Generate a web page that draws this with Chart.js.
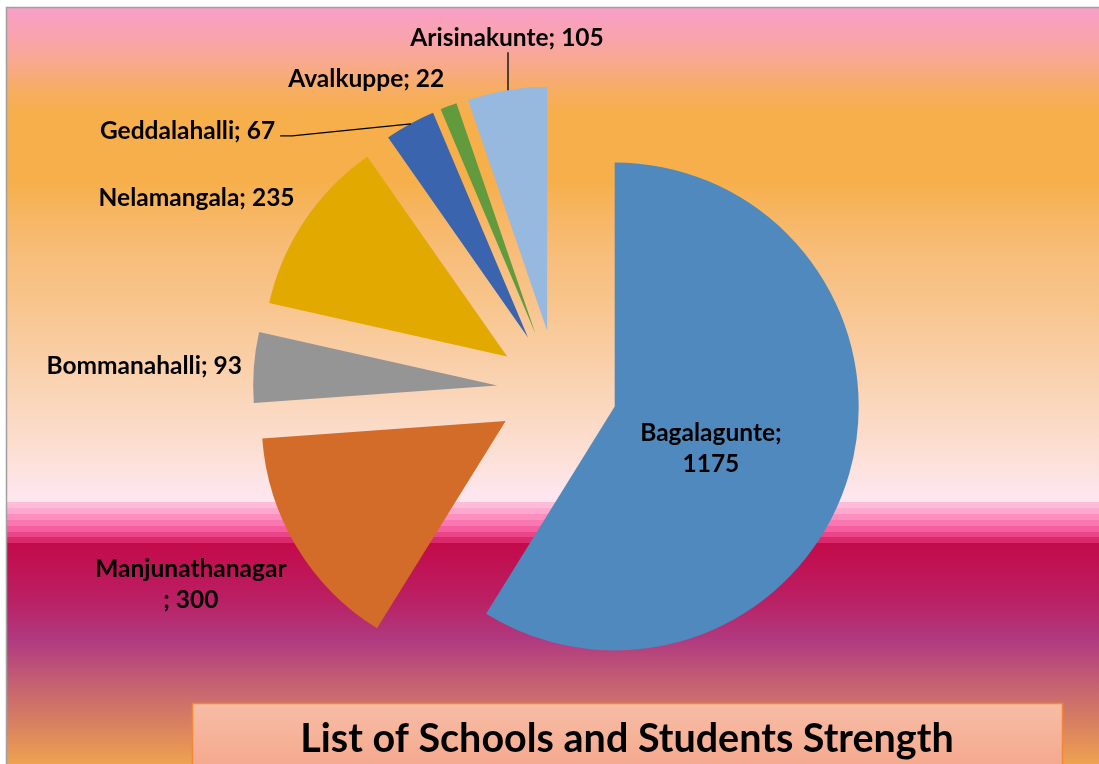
<!DOCTYPE html>
<html>
<head>
    <title>List of Schools and Students Strength</title>
    <script src="https://cdn.jsdelivr.net/npm/chart.js"></script>
    <style>
        html, body { margin: 0; padding: 0; background: #fff; }
        .chart-container { width: 1099px; height: 764px; }
    </style>
</head>
<body>
    <div class="chart-container">
        <canvas id="schoolChart" width="1099" height="764"></canvas>
    </div>

    <script>
        // data
        const schools = ['Bagalagunte', 'Manjunathanagar', 'Bommanahalli', 'Nelamangala', 'Geddalahalli', 'Avalkuppe', 'Arisinakunte'];
        const students = [1175, 300, 93, 235, 67, 22, 105];
        const sliceColors = ['#4F89BD', '#D36C29', '#959595', '#E2A900', '#3A64AD', '#629A3E', '#97B8DF'];
        const chartTitle = 'List of Schools and Students Strength';

        const explode = 60;          // every slice pulled out this far
        const labelGap = 12;
        const labelFont = 'bold 24.5px Lato';
        const lineH = 31;

        // labels that Excel moved / wrapped
        const labelTweaks = {
            Bagalagunte: { inside: true, dy: 15 },
            Manjunathanagar: { wrap: true },
            Geddalahalli: { dx: -129, dy: 33, leader: 'elbow' },
            Arisinakunte: { dx: 2, dy: -25, leader: 'straight' }
        };

        // background gradient (y in px, colour)
        const bgStops = [
            [8, '#F99FC9'], [35, '#F9A3B0'], [62, '#F8A98E'], [90, '#F7AD62'], [115, '#F6AF4A'],
            [180, '#F6AF4A'], [215, '#F7B663'], [260, '#F7BE7D'], [300, '#F8C48A'], [350, '#F9CDA3'],
            [400, '#FAD6BA'], [450, '#FCDFD3'], [495, '#FDE6EE'], [502, '#FDE6EE'],
            [502, '#FEBCD8'], [508, '#FEBCD8'], [508, '#FDA9CD'], [514, '#FDA9CD'],
            [514, '#FC8FC0'], [520, '#FC8FC0'], [520, '#F978B2'], [526, '#F978B2'],
            [526, '#F55E9F'], [532, '#F55E9F'], [532, '#EC4489'], [537, '#EC4489'],
            [537, '#DB2A6C'], [543, '#DB2A6C'], [543, '#C30A4A'],
            [600, '#BA2064'], [640, '#B03A80'], [690, '#C86670'], [720, '#D67E62'], [764, '#EFA250']
        ];

        const backgroundPlugin = {
            id: 'background',
            beforeDraw(chart) {
                const ctx = chart.ctx;
                const W = chart.width, H = chart.height;
                ctx.save();
                ctx.fillStyle = '#fff';
                ctx.fillRect(0, 0, W, H);
                const g = ctx.createLinearGradient(0, 8, 0, H);
                bgStops.forEach(([y, c]) => g.addColorStop((y - 8) / (H - 8), c));
                ctx.fillStyle = g;
                ctx.fillRect(7, 8, W - 7, H - 8);
                ctx.strokeStyle = '#A0A0A0';
                ctx.lineWidth = 1.5;
                ctx.beginPath();
                ctx.moveTo(6.5, H);
                ctx.lineTo(6.5, 7.5);
                ctx.lineTo(W, 7.5);
                ctx.stroke();
                ctx.restore();
            }
        };

        // pull every slice out along its middle angle
        const explodePlugin = {
            id: 'explode',
            afterDatasetsUpdate(chart) {
                chart.getDatasetMeta(0).data.forEach(arc => {
                    const mid = (arc.startAngle + arc.endAngle) / 2;
                    arc.x += Math.cos(mid) * explode;
                    arc.y += Math.sin(mid) * explode;
                });
            }
        };

        const labelPlugin = {
            id: 'sliceLabels',
            afterDatasetsDraw(chart) {
                const ctx = chart.ctx;
                const meta = chart.getDatasetMeta(0);
                ctx.save();
                ctx.font = labelFont;
                ctx.fillStyle = '#000';
                ctx.strokeStyle = '#000';
                ctx.lineWidth = 1.3;
                ctx.textAlign = 'center';
                ctx.textBaseline = 'middle';
                meta.data.forEach((arc, i) => {
                    const name = chart.data.labels[i];
                    const value = chart.data.datasets[0].data[i];
                    const tw = labelTweaks[name] || {};
                    const mid = (arc.startAngle + arc.endAngle) / 2;
                    const ux = Math.cos(mid), uy = Math.sin(mid);
                    let lines;
                    if (tw.inside) lines = [name + ';', String(value)];
                    else if (tw.wrap) lines = [name, '; ' + value];
                    else lines = [name + '; ' + value];
                    const w = Math.max(...lines.map(l => ctx.measureText(l).width));
                    const h = lines.length * lineH;
                    let cx, cy;
                    if (tw.inside) {
                        cx = arc.x + ux * arc.outerRadius * 0.41;
                        cy = arc.y + uy * arc.outerRadius * 0.41;
                    } else {
                        const ax = arc.x + ux * (arc.outerRadius + labelGap);
                        const ay = arc.y + uy * (arc.outerRadius + labelGap);
                        cx = ax + (ux < -0.3 ? -w / 2 : ux > 0.3 ? w / 2 : 0);
                        cy = ay + (uy < -0.3 ? -h / 2 : uy > 0.3 ? h / 2 : 0);
                    }
                    cx += tw.dx || 0;
                    cy += tw.dy || 0;

                    if (tw.leader) {
                        const ex = arc.x + ux * arc.outerRadius;
                        const ey = arc.y + uy * arc.outerRadius;
                        ctx.beginPath();
                        if (tw.leader === 'elbow') {
                            const sx = cx + w / 2 + 5;
                            ctx.moveTo(sx, cy + 5);
                            ctx.lineTo(sx + 12, cy + 5);
                        } else {
                            ctx.moveTo(ex + 1, cy + h / 2 - 1);
                        }
                        ctx.lineTo(ex + 1, ey);
                        ctx.stroke();
                    }
                    lines.forEach((l, k) => ctx.fillText(l, cx, cy - h / 2 + lineH * (k + 0.5)));
                });
                ctx.restore();
            }
        };

        const titleBoxPlugin = {
            id: 'titleBox',
            afterDraw(chart) {
                const ctx = chart.ctx;
                ctx.save();
                const g = ctx.createLinearGradient(0, 703, 0, 770);
                g.addColorStop(0, '#F7BDA6');
                g.addColorStop(1, '#F4A88C');
                ctx.fillStyle = g;
                ctx.fillRect(192.5, 703.5, 870, 70);
                ctx.strokeStyle = '#F0883A';
                ctx.lineWidth = 1.5;
                ctx.strokeRect(192.5, 703.5, 870, 70);
                ctx.fillStyle = '#000';
                ctx.font = 'bold 39.5px Lato';
                ctx.textAlign = 'center';
                ctx.textBaseline = 'alphabetic';
                ctx.fillText(chartTitle, 627, 752);
                ctx.restore();
            }
        };

        const ctx = document.getElementById('schoolChart').getContext('2d');
        const schoolChart = new Chart(ctx, {
            type: 'pie',
            data: {
                labels: schools,
                datasets: [{
                    data: students,
                    backgroundColor: sliceColors,
                    borderWidth: 0
                }]
            },
            options: {
                responsive: false,
                animation: false,
                events: [],
                layout: {
                    padding: { left: 313, right: 298, top: 146, bottom: 130 }
                },
                plugins: {
                    legend: { display: false },
                    tooltip: { enabled: false },
                    title: { display: false }
                }
            },
            plugins: [backgroundPlugin, explodePlugin, labelPlugin, titleBoxPlugin]
        });
    </script>
</body>
</html>
